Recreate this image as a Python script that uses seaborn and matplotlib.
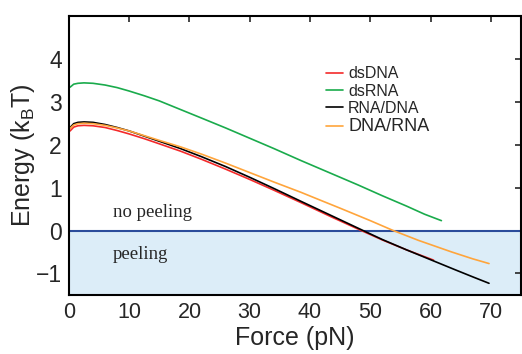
import numpy as np
import pandas as pd
import matplotlib
matplotlib.use("Agg")
import matplotlib.pyplot as plt
import seaborn as sns

# Force (pN) and energy (kBT)
force_dsdna = [0.2, 0.8, 1.5, 2.5, 4, 6, 8, 10, 12.5, 15, 18.5, 22, 26, 30, 34, 38.5, 43.5, 48.5, 52, 56, 60.5]
energy_dsdna = [2.32, 2.41, 2.44, 2.45, 2.44, 2.40, 2.33, 2.25, 2.14, 2.02, 1.85, 1.66, 1.43, 1.19, 0.94, 0.65, 0.32, 0.0, -0.22, -0.45, -0.69]

force_dsrna = [0.2, 0.8, 1.5, 2.5, 4, 6, 8, 10, 12.5, 15, 18.5, 22, 26, 30, 34, 38.5, 43.5, 48, 52, 56, 59, 61.8]
energy_dsrna = [3.34, 3.41, 3.43, 3.44, 3.43, 3.39, 3.33, 3.25, 3.14, 3.02, 2.82, 2.62, 2.39, 2.15, 1.91, 1.63, 1.33, 1.06, 0.81, 0.57, 0.38, 0.23]

force_rnadna = [0.2, 0.8, 1.5, 2.5, 4, 6, 8, 10, 12.5, 15, 18.5, 22, 26, 30, 34, 38.5, 43.5, 48.8, 52, 56, 60, 64, 67, 69.7]
energy_rnadna = [2.40, 2.49, 2.52, 2.53, 2.52, 2.47, 2.40, 2.32, 2.20, 2.08, 1.91, 1.72, 1.49, 1.24, 0.98, 0.68, 0.35, 0.0, -0.21, -0.45, -0.68, -0.91, -1.08, -1.23]

force_dnarna = [0.2, 0.8, 1.5, 2.5, 4, 6, 8, 10, 12.5, 15, 18.5, 22, 26, 30, 34, 38.5, 41.3, 45, 50, 53.8, 58, 63.5, 67, 69.7]
energy_dnarna = [2.38, 2.46, 2.49, 2.50, 2.49, 2.45, 2.39, 2.32, 2.21, 2.10, 1.95, 1.78, 1.57, 1.35, 1.13, 0.89, 0.73, 0.52, 0.23, 0.0, -0.23, -0.50, -0.66, -0.77]

labels = ["dsDNA", "dsRNA", "RNA/DNA", "DNA/RNA"]
colors = ["#f42a2a", "#1aab4c", "#000000", "#ffa53c"]

frames = []
for lab, f, e in zip(labels,
                     [force_dsdna, force_dsrna, force_rnadna, force_dnarna],
                     [energy_dsdna, energy_dsrna, energy_rnadna, energy_dnarna]):
    frames.append(pd.DataFrame({"force": f, "energy": e, "hybrid": lab}))
df = pd.concat(frames, ignore_index=True)

sns.set_style("white")
plt.rcParams["font.family"] = ["Liberation Sans", "DejaVu Sans"]
plt.rcParams["mathtext.fontset"] = "custom"
plt.rcParams["mathtext.rm"] = "Liberation Sans"
plt.rcParams["mathtext.it"] = "Liberation Sans:italic"

fig = plt.figure(figsize=(5.22, 3.54), dpi=100)
ax = fig.add_axes([0.132, 0.167, 0.866, 0.788])

# peeling region
ax.axhspan(-1.5, 0, color="#dcedf8", zorder=0, lw=0)
ax.axhline(0, color="#2b4c9b", lw=1.5, zorder=1)

sns.lineplot(data=df, x="force", y="energy", hue="hybrid", hue_order=labels,
             palette=colors, sort=False, estimator=None, lw=1.2, ax=ax)

ax.set_xlim(0, 75)
ax.set_ylim(-1.5, 5)
ax.set_xticks([0, 10, 20, 30, 40, 50, 60, 70])
ax.set_yticks([-1, 0, 1, 2, 3, 4])
ax.set_yticklabels(["\u22121", "0", "1", "2", "3", "4"])
ax.tick_params(direction="in", top=True, right=True, length=4, width=1.2, pad=5)
ax.tick_params(axis="x", labelsize=15.5)
ax.tick_params(axis="y", labelsize=16.5)
for s in ax.spines.values():
    s.set_linewidth(1.5)
    s.set_color("black")

ax.set_xlabel("Force (pN)", fontsize=18, labelpad=2)
ax.set_ylabel("Energy (k$_\\mathrm{B}$T)", fontsize=18, labelpad=-1)

ax.text(7.3, 0.42, "no peeling", family="Liberation Serif", fontsize=13.5, va="center")
ax.text(7.3, -0.55, "peeling", family="Liberation Serif", fontsize=13.5, va="center")

leg = ax.legend(loc="upper left", bbox_to_anchor=(0.568, 0.82), frameon=False,
                fontsize=11.5, handlelength=1.1, handletextpad=0.3, labelspacing=0.15,
                borderpad=0, borderaxespad=0)
leg.get_texts()[3].set_fontsize(13)

fig.savefig("out.png", dpi=100)
